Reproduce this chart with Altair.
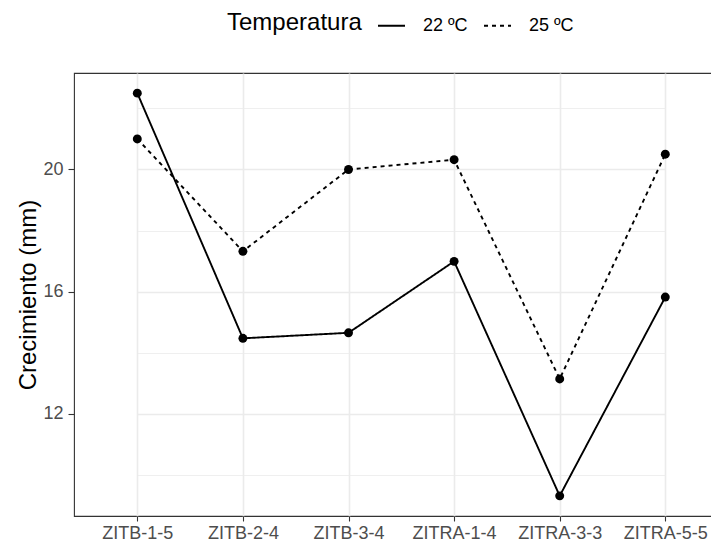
import altair as alt
import pandas as pd

categories = ["ZITB-1-5", "ZITB-2-4", "ZITB-3-4", "ZITRA-1-4", "ZITRA-3-3", "ZITRA-5-5"]
temp_labels = ["22 ºC", "25 ºC"]
values_22 = [22.5, 14.47, 14.65, 16.99, 9.31, 15.82]
values_25 = [21.0, 17.32, 20.0, 20.32, 13.14, 20.5]

rows = []
for lab, vals in zip(temp_labels, [values_22, values_25]):
    for c, v in zip(categories, vals):
        rows.append({"genotipo": c, "Temperatura": lab, "crec": v})
df = pd.DataFrame(rows)

FONT = "Liberation Sans"
W, H = 645, 443
# the panel runs past the right edge of the picture, as in the reference
PAD = {"left": 66, "top": 65, "right": -8, "bottom": 27}

# category step ~105.6 px, first category 63.3 px from the panel's left edge
xscale = alt.Scale(domain=categories, padding=0, range=[63.3, 591.3])
yscale = alt.Scale(domain=[8.65, 23.16], nice=False, zero=False)

major = "datum.value % 4 == 0"
yaxis = alt.Axis(
    values=[10, 12, 14, 16, 18, 20, 22],
    labelExpr="datum.value % 4 == 0 ? datum.label : ''",
    title="Crecimiento (mm)",
    titleFontSize=24, titleColor="black", titleFontWeight="normal",
    titleX=-46, titleY=H / 2, titleBaseline="middle", titleAngle=270,
    labelFontSize=18, labelColor="#4D4D4D", labelPadding=5,
    tickSize=6, tickColor="#333333", tickWidth=1.1,
    tickOpacity={"condition": {"test": major, "value": 1}, "value": 0},
    grid=True, gridColor="#EBEBEB",
    gridWidth={"condition": {"test": major, "value": 1.6}, "value": 0.8},
    domain=False,
)

xaxis = alt.Axis(
    title=None, labelFontSize=18, labelColor="#4D4D4D", labelPadding=3,
    labelAngle=0, tickSize=5, tickColor="#333333", tickWidth=1.1,
    grid=True, gridColor="#EBEBEB", gridWidth=1.6,
    domain=False,
)

base = alt.Chart(df)

lines = base.mark_line(color="black", strokeWidth=1.9).encode(
    x=alt.X("genotipo:N", scale=xscale, axis=xaxis, sort=categories),
    y=alt.Y("crec:Q", scale=yscale, axis=yaxis),
    strokeDash=alt.StrokeDash(
        "Temperatura:N",
        scale=alt.Scale(domain=temp_labels, range=[[1, 0], [4, 4]]),
        legend=alt.Legend(
            orient="none", direction="horizontal", legendX=153, legendY=-62,
            titleOrient="left", title="Temperatura", titleFontSize=24,
            titleFontWeight="normal", titleColor="black", titlePadding=15,
            labelFontSize=18, labelColor="black", labelOffset=17,
            symbolType="stroke", symbolSize=729, symbolStrokeWidth=1.9,
            symbolStrokeColor="black", columnPadding=12, padding=0,
        ),
    ),
)

points = base.mark_circle(size=80, color="black", opacity=1).encode(
    x=alt.X("genotipo:N", scale=xscale, axis=xaxis, sort=categories),
    y=alt.Y("crec:Q", scale=yscale, axis=yaxis),
    detail="Temperatura:N",
)

chart = (
    alt.layer(lines, points)
    .properties(
        width=W, height=H,
        padding=PAD,
        autosize=alt.AutoSizeParams(type="none"),
        background="white",
    )
    .configure(font=FONT)
    .configure_legend(symbolSize=729)
    .configure_view(stroke="#333333", strokeWidth=1.1)
)

chart.save("out.html", embed_options={"renderer": "svg", "actions": False})
